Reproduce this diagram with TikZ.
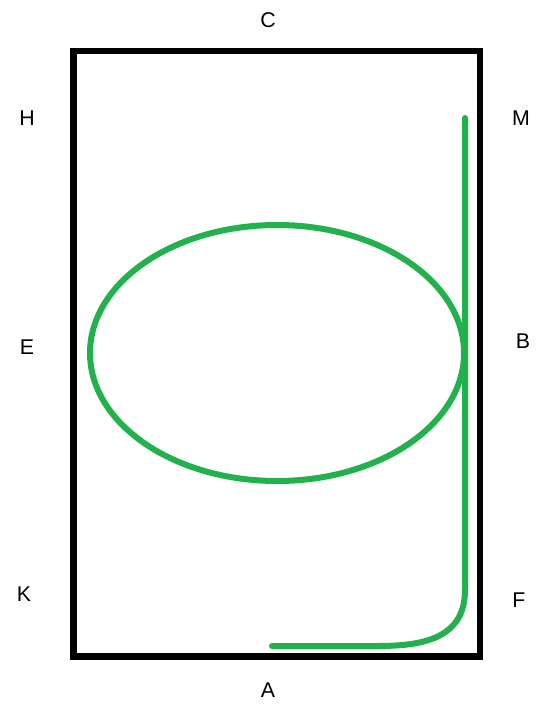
\documentclass[tikz,border=0pt]{standalone}
\usepackage{fontspec}
\setmainfont{Liberation Sans}
\usepackage{xcolor}
\usetikzlibrary{positioning}
\definecolor{paintgreen}{RGB}{34,177,76}

\begin{document}
\begin{tikzpicture}[
    x=0.75pt, y=-0.75pt,
    frame/.style={draw=black, line width=4.8pt},
    loop/.style={draw=paintgreen, line width=4.5pt, line cap=round},
    lbl/.style={font=\fontsize{16}{19}\selectfont, inner sep=0pt}
  ]
    \useasboundingbox (0,0) rectangle (547,707);
    \draw[frame] (73.5,51) rectangle (480,656.5);
    \draw[loop] (277,353) ellipse [x radius=187, y radius=128];
    \draw[loop] (465,118) -- (465,590) .. controls (465,640) and (420,646) .. (377,646) -- (272,646);

    \node[lbl] (C) at (268,20) {C};
    \node[lbl] (H) at (27,118) {H};
    \node[lbl] (M) at (521,118) {M};
    \node[lbl] (E) at (27,347) {E};
    \node[lbl] (B) at (523,341) {B};
    \node[lbl] (K) at (24,594) {K};
    \node[lbl] (F) at (519,600) {F};
    \node[lbl] (A) at (268,690) {A};
\end{tikzpicture}
\end{document}
